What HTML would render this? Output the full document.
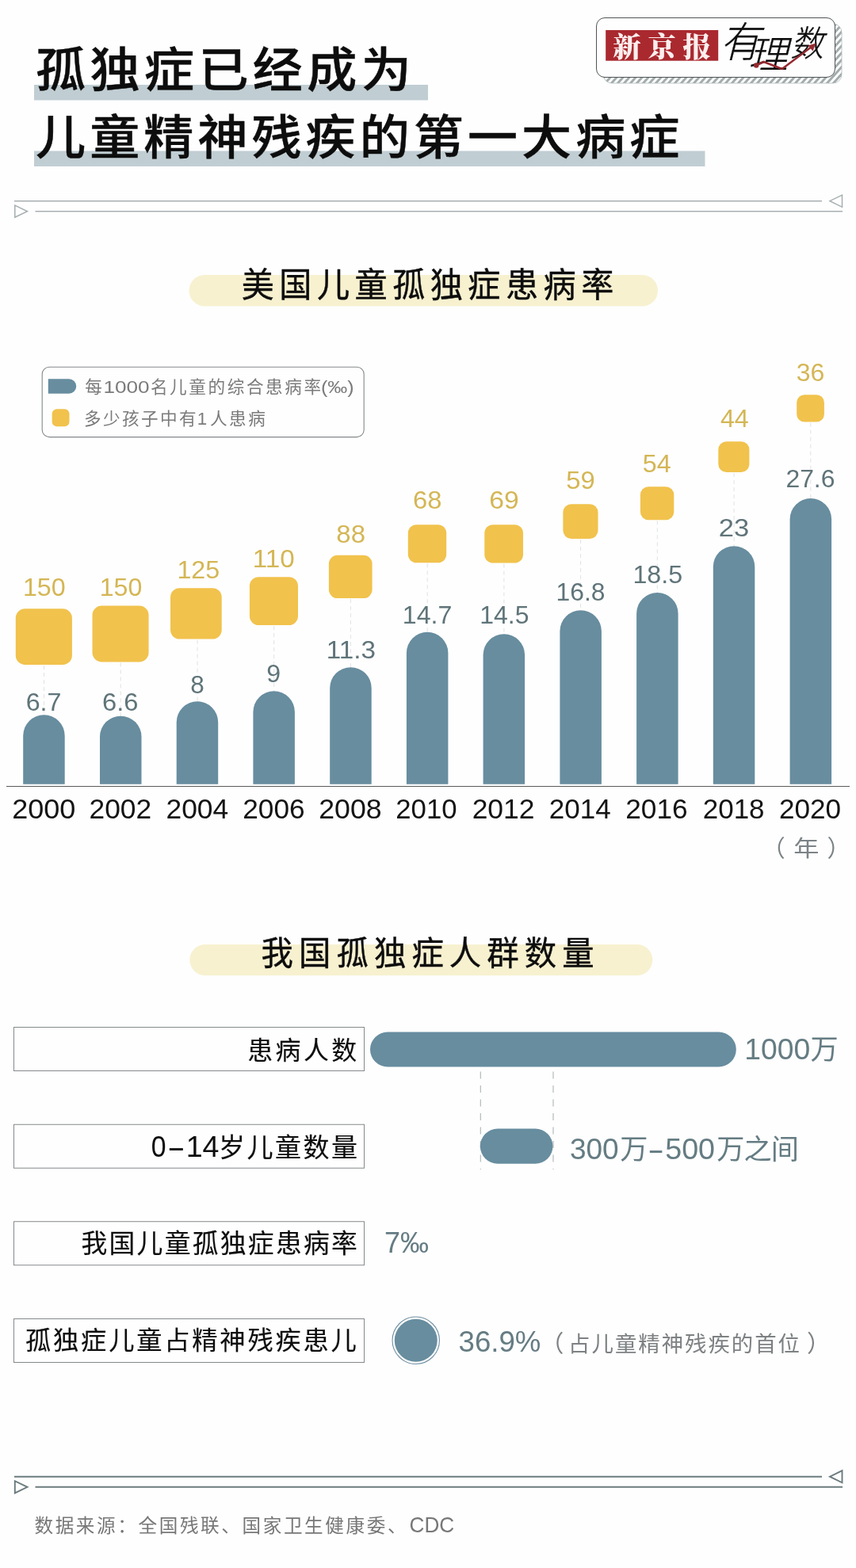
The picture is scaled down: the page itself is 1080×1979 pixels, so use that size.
<!DOCTYPE html>
<html lang="zh-CN"><head><meta charset="utf-8"><title>孤独症已经成为儿童精神残疾的第一大病症</title>
<style>
html,body{margin:0;padding:0;background:#fefefe;}
body{width:1080px;height:1979px;overflow:hidden;position:relative;}
svg{display:block;position:absolute;left:0;top:0;}
text{font-family:"Liberation Sans", "Noto Sans CJK SC", sans-serif;white-space:pre;}
.serif{font-family:"Liberation Serif", "Noto Serif CJK SC", serif;}
</style></head><body>
<svg width="1080" height="1979" viewBox="0 0 1080 1979">
<defs>
<pattern id="hatch" width="8" height="40" patternUnits="userSpaceOnUse" patternTransform="skewX(-42)"><rect x="0" y="0" width="4" height="40" fill="#a3acad"/></pattern>
</defs>
<rect width="1080" height="1979" fill="#fefefe"/>
<rect x="43" y="107" width="497" height="19.5" fill="#c0ced3"/>
<rect x="43" y="190.5" width="846.5" height="19.5" fill="#c0ced3"/>
<text font-size="59.84" fill="#0d0d0d" font-weight="500" stroke="#0d0d0d" stroke-width="0.45" transform="matrix(1.0550 0 0 1 45.11 109.61)" letter-spacing="5.04">孤独症已经成为</text>
<text font-size="59.79" fill="#0d0d0d" font-weight="500" stroke="#0d0d0d" stroke-width="0.45" transform="matrix(1.0550 0 0 1 45.11 194.92)" letter-spacing="4.78">儿童精神残疾的第一大病症</text>
<rect x="761" y="30" width="301" height="75" rx="11" fill="url(#hatch)" stroke="#b4bbbc" stroke-width="0.8"/>
<rect x="752.5" y="22.5" width="301" height="75" rx="10.5" fill="#fefefe" stroke="#4f5557" stroke-width="1"/>
<rect x="764.2" y="38" width="142" height="38.7" fill="#a9292f"/>
<text font-size="35.57" fill="#fdeeee" font-weight="900" class="serif" x="773.13" y="71.74" letter-spacing="8.51">新京报</text>
<g transform="translate(938.0,51.6) skewX(-14) translate(-938.0,-51.6)">
<text font-size="52.5" fill="#0d0d0d" font-weight="300" stroke="#0d0d0d" stroke-width="0.35" transform="matrix(0.9524 0 0 1 913.50 71.60)">有</text>
</g>
<g transform="translate(973.8,67.5) skewX(-14) translate(-973.8,-67.5)">
<text font-size="48.19" fill="#0d0d0d" font-weight="300" stroke="#0d0d0d" stroke-width="0.35" transform="matrix(1.0263 0 0 1 949.02 85.57)">理</text>
</g>
<g transform="translate(1022.5,53.4) skewX(-14) translate(-1022.5,-53.4)">
<text font-size="45.33" fill="#0d0d0d" font-weight="300" stroke="#0d0d0d" stroke-width="0.35" transform="matrix(0.9212 0 0 1 1001.41 70.57)">数</text>
</g>
<polyline points="954.2,82.5 963.5,78 986.7,87 1024,59" fill="none" stroke="#93292f" stroke-width="2.5" stroke-linejoin="round"/>
<circle cx="954.2" cy="82.5" r="3.2" fill="#962a30"/>
<polygon points="1029.5,54.5 1019.5,57.5 1025.5,64.5" fill="#962a30"/>
<g fill="none" stroke="#a7afb1" stroke-width="1.5">
<line x1="18" y1="253.7" x2="1037" y2="253.7"/>
<line x1="44.5" y1="266.7" x2="1063" y2="266.7"/>
<polygon points="18.8,259.1 18.8,274.3 34.5,266.7"/>
<polygon points="1062.5,246.1 1062.5,261.3 1047,253.7"/>
</g>
<g fill="none" stroke="#6b7b7e" stroke-width="1.9">
<line x1="18" y1="1863.7" x2="1037" y2="1863.7"/>
<line x1="44.5" y1="1876.8" x2="1063" y2="1876.8"/>
<polygon points="18.8,1869.2 18.8,1884.4 34.5,1876.8"/>
<polygon points="1062.5,1856.1 1062.5,1871.3 1047,1863.7"/>
</g>
<rect x="238.5" y="347" width="591.5" height="39.6" rx="19.8" fill="#f7f1d0"/>
<text font-size="43.33" fill="#0d0d0d" stroke="#0d0d0d" stroke-width="0.4" transform="matrix(0.9500 0 0 1 304.74 375.23)" letter-spacing="6.79">美国儿童孤独症患病率</text>
<rect x="53.2" y="463.2" width="406" height="88.4" rx="9" fill="#fefefe" stroke="#85898b" stroke-width="1.1"/>
<path d="M60.8 478.3 H87 a9.25 9.25 0 0 1 0 18.5 H60.8 Z" fill="#678d9f"/>
<rect x="65.7" y="516.3" width="21.8" height="22" rx="6" fill="#f1c24c"/>
<text fill="#7b7b7b"><tspan x="107.35" y="496.10" font-size="21.6" letter-spacing="0.00">每</tspan><tspan x="130.40" y="496.10" font-size="22.3" textLength="58.27" lengthAdjust="spacingAndGlyphs">1000</tspan><tspan x="189.92" y="496.10" font-size="21.6" letter-spacing="2.60">名儿童的综合患病率</tspan><tspan x="405.00" y="496.10" font-size="21.5" textLength="41.65" lengthAdjust="spacingAndGlyphs">(‰)</tspan></text>
<text fill="#7b7b7b"><tspan x="106.07" y="536.00" font-size="21.6" letter-spacing="2.40">多少孩子中有</tspan><tspan x="248.80" y="536.00" font-size="22.3" letter-spacing="0.00">1</tspan><tspan x="264.92" y="536.00" font-size="21.6" letter-spacing="2.57">人患病</tspan></text>
<line x1="55.5" y1="840.1" x2="55.5" y2="902.4" stroke="#dfe2e3" stroke-width="1" stroke-dasharray="5 4"/>
<path d="M29.2 989.8 V928.6 a26.25 26.25 0 0 1 52.5 0 V989.8 Z" fill="#678d9f"/>
<rect x="19.8" y="768.3" width="71.1" height="70.8" rx="11.9" fill="#f1c24c"/>
<text font-size="30.85" fill="#5f7479" transform="matrix(1.0453 0 0 1 32.69 897.19)">6.7</text>
<text font-size="30.85" fill="#d4b655" transform="matrix(1.0456 0 0 1 28.92 751.99)">150</text>
<text font-size="35.92" fill="#141414" transform="matrix(1.0031 0 0 1 15.20 1032.64)">2000</text>
<line x1="152.2" y1="836.4" x2="152.2" y2="903.7" stroke="#dfe2e3" stroke-width="1" stroke-dasharray="5 4"/>
<path d="M126.0 989.8 V929.9 a26.25 26.25 0 0 1 52.5 0 V989.8 Z" fill="#678d9f"/>
<rect x="116.5" y="764.6" width="71.1" height="70.8" rx="11.9" fill="#f1c24c"/>
<text font-size="30.85" fill="#5f7479" transform="matrix(1.0597 0 0 1 128.97 897.19)">6.6</text>
<text font-size="30.85" fill="#d4b655" transform="matrix(1.0415 0 0 1 125.73 751.69)">150</text>
<text font-size="35.92" fill="#141414" transform="matrix(0.9849 0 0 1 112.48 1032.64)">2002</text>
<line x1="249.0" y1="807.6" x2="249.0" y2="885.4" stroke="#dfe2e3" stroke-width="1" stroke-dasharray="5 4"/>
<path d="M222.7 989.8 V911.6 a26.25 26.25 0 0 1 52.5 0 V989.8 Z" fill="#678d9f"/>
<rect x="215.0" y="742.2" width="64.7" height="64.4" rx="11.6" fill="#f1c24c"/>
<text font-size="30.85" fill="#5f7479" transform="matrix(1.0207 0 0 1 240.24 874.79)">8</text>
<text font-size="30.85" fill="#d4b655" transform="matrix(1.0456 0 0 1 223.42 730.19)">125</text>
<text font-size="35.92" fill="#141414" transform="matrix(0.9854 0 0 1 209.48 1032.64)">2004</text>
<line x1="345.7" y1="790.0" x2="345.7" y2="872.3" stroke="#dfe2e3" stroke-width="1" stroke-dasharray="5 4"/>
<path d="M319.4 989.8 V898.5 a26.25 26.25 0 0 1 52.5 0 V989.8 Z" fill="#678d9f"/>
<rect x="314.9" y="728.2" width="61.1" height="60.8" rx="11.4" fill="#f1c24c"/>
<text font-size="30.85" fill="#5f7479" transform="matrix(1.0429 0 0 1 336.19 860.79)">9</text>
<text font-size="30.85" fill="#d4b655" transform="matrix(1.0783 0 0 1 318.84 715.89)">110</text>
<text font-size="35.92" fill="#141414" transform="matrix(0.9803 0 0 1 306.24 1032.64)">2006</text>
<line x1="442.4" y1="756.1" x2="442.4" y2="842.2" stroke="#dfe2e3" stroke-width="1" stroke-dasharray="5 4"/>
<path d="M416.2 989.8 V868.4 a26.25 26.25 0 0 1 52.5 0 V989.8 Z" fill="#678d9f"/>
<rect x="414.9" y="700.7" width="54.7" height="54.4" rx="11.0" fill="#f1c24c"/>
<text font-size="30.85" fill="#5f7479" transform="matrix(1.0780 0 0 1 411.74 830.79)">11.3</text>
<text font-size="30.85" fill="#d4b655" transform="matrix(1.0700 0 0 1 424.28 685.49)">88</text>
<text font-size="35.92" fill="#141414" transform="matrix(0.9933 0 0 1 402.22 1032.64)">2008</text>
<line x1="539.2" y1="711.3" x2="539.2" y2="797.7" stroke="#dfe2e3" stroke-width="1" stroke-dasharray="5 4"/>
<path d="M512.9 989.8 V824.0 a26.25 26.25 0 0 1 52.5 0 V989.8 Z" fill="#678d9f"/>
<rect x="514.8" y="662.2" width="48.4" height="48.1" rx="10.7" fill="#f1c24c"/>
<text font-size="31.74" fill="#5f7479" transform="matrix(1.0127 0 0 1 507.83 787.10)">14.7</text>
<text font-size="30.85" fill="#d4b655" transform="matrix(1.0614 0 0 1 520.96 642.19)">68</text>
<text font-size="35.92" fill="#141414" transform="matrix(0.9672 0 0 1 499.26 1032.64)">2010</text>
<line x1="635.9" y1="711.6" x2="635.9" y2="800.3" stroke="#dfe2e3" stroke-width="1" stroke-dasharray="5 4"/>
<path d="M609.6 989.8 V826.6 a26.25 26.25 0 0 1 52.5 0 V989.8 Z" fill="#678d9f"/>
<rect x="611.3" y="662.2" width="48.7" height="48.4" rx="10.7" fill="#f1c24c"/>
<text font-size="31.29" fill="#5f7479" transform="matrix(1.0220 0 0 1 605.24 786.79)">14.5</text>
<text font-size="30.85" fill="#d4b655" transform="matrix(1.0944 0 0 1 617.21 642.19)">69</text>
<text font-size="35.92" fill="#141414" transform="matrix(0.9875 0 0 1 595.63 1032.64)">2012</text>
<line x1="732.6" y1="681.0" x2="732.6" y2="770.3" stroke="#dfe2e3" stroke-width="1" stroke-dasharray="5 4"/>
<path d="M706.4 989.8 V796.5 a26.25 26.25 0 0 1 52.5 0 V989.8 Z" fill="#678d9f"/>
<rect x="710.4" y="636.2" width="44.1" height="43.8" rx="10.4" fill="#f1c24c"/>
<text font-size="30.85" fill="#5f7479" transform="matrix(1.0330 0 0 1 701.45 758.29)">16.8</text>
<text font-size="30.85" fill="#d4b655" transform="matrix(1.0646 0 0 1 714.19 616.99)">59</text>
<text font-size="35.92" fill="#141414" transform="matrix(0.9757 0 0 1 692.75 1032.64)">2014</text>
<line x1="829.3" y1="657.3" x2="829.3" y2="748.0" stroke="#dfe2e3" stroke-width="1" stroke-dasharray="5 4"/>
<path d="M803.1 989.8 V774.3 a26.25 26.25 0 0 1 52.5 0 V989.8 Z" fill="#678d9f"/>
<rect x="807.9" y="614.2" width="42.4" height="42.1" rx="10.3" fill="#f1c24c"/>
<text font-size="30.85" fill="#5f7479" transform="matrix(1.0437 0 0 1 798.42 735.79)">18.5</text>
<text font-size="31.29" fill="#d4b655" transform="matrix(1.0325 0 0 1 810.71 596.19)">54</text>
<text font-size="35.92" fill="#141414" transform="matrix(0.9803 0 0 1 789.24 1032.64)">2016</text>
<line x1="926.1" y1="597.0" x2="926.1" y2="689.2" stroke="#dfe2e3" stroke-width="1" stroke-dasharray="5 4"/>
<path d="M899.8 989.8 V715.4 a26.25 26.25 0 0 1 52.5 0 V989.8 Z" fill="#678d9f"/>
<rect x="906.3" y="557.2" width="39.1" height="38.8" rx="10.2" fill="#f1c24c"/>
<text font-size="30.85" fill="#5f7479" transform="matrix(1.1186 0 0 1 906.77 677.29)">23</text>
<text font-size="32.21" fill="#d4b655" transform="matrix(0.9988 0 0 1 908.96 538.82)">44</text>
<text font-size="35.92" fill="#141414" transform="matrix(0.9737 0 0 1 886.75 1032.64)">2018</text>
<line x1="1022.8" y1="533.6" x2="1022.8" y2="629.0" stroke="#dfe2e3" stroke-width="1" stroke-dasharray="5 4"/>
<path d="M996.6 989.8 V655.2 a26.25 26.25 0 0 1 52.5 0 V989.8 Z" fill="#678d9f"/>
<rect x="1005.2" y="498.2" width="34.7" height="34.4" rx="9.9" fill="#f1c24c"/>
<text font-size="30.85" fill="#5f7479" transform="matrix(1.0338 0 0 1 991.41 615.49)">27.6</text>
<text font-size="30.85" fill="#d4b655" transform="matrix(1.0385 0 0 1 1004.72 480.69)">36</text>
<text font-size="35.92" fill="#141414" transform="matrix(0.9777 0 0 1 983.04 1032.64)">2020</text>
<line x1="8" y1="992.5" x2="1072" y2="992.5" stroke="#5a5a5a" stroke-width="1"/>
<text fill="#7c8386"><tspan x="961.26" y="1080.90" font-size="29.5" letter-spacing="0.00">（</tspan><tspan x="1001.39" y="1080.90" font-size="28.2" textLength="32.22" lengthAdjust="spacingAndGlyphs">年</tspan><tspan x="1043.44" y="1080.90" font-size="29.5" letter-spacing="0.00">）</tspan></text>
<rect x="239.3" y="1192" width="584" height="39.2" rx="19.6" fill="#f7f1d0"/>
<text font-size="42.55" fill="#0d0d0d" stroke="#0d0d0d" stroke-width="0.4" transform="matrix(0.9500 0 0 1 329.48 1218.37)" letter-spacing="7.44">我国孤独症人群数量</text>
<rect x="17.5" y="1296.5" width="442" height="55" fill="#fefefe" stroke="#85898b" stroke-width="1"/>
<text font-size="31.91" fill="#0d0d0d" stroke="#0d0d0d" stroke-width="0.15" x="312.15" y="1336.93" letter-spacing="3.47">患病人数</text>
<rect x="17.5" y="1419.25" width="442" height="55" fill="#fefefe" stroke="#85898b" stroke-width="1"/>
<text fill="#0d0d0d"><tspan x="190.65" y="1459.90" font-size="36.6" textLength="18.77" lengthAdjust="spacingAndGlyphs">0</tspan><tspan x="210.82" y="1459.90" font-size="36.6" textLength="23.19" lengthAdjust="spacingAndGlyphs">-</tspan><tspan x="234.69" y="1459.90" font-size="36.6" textLength="41.82" lengthAdjust="spacingAndGlyphs">14</tspan><tspan x="276.10" y="1459.90" font-size="33" letter-spacing="2.46" stroke="#0d0d0d" stroke-width="0.15">岁儿童数量</tspan></text>
<rect x="17.5" y="1541.75" width="442" height="55" fill="#fefefe" stroke="#85898b" stroke-width="1"/>
<text font-size="32.8" fill="#0d0d0d" stroke="#0d0d0d" stroke-width="0.15" x="102.44" y="1580.78" letter-spacing="2.27">我国儿童孤独症患病率</text>
<rect x="17.5" y="1664.5" width="442" height="55" fill="#fefefe" stroke="#85898b" stroke-width="1"/>
<text font-size="32.26" fill="#0d0d0d" stroke="#0d0d0d" stroke-width="0.15" x="31.96" y="1702.72" letter-spacing="2.81">孤独症儿童占精神残疾患儿</text>
<line x1="606.3" y1="1352.5" x2="606.3" y2="1476" stroke="#adb3b5" stroke-width="1.1" stroke-dasharray="9 8.5"/>
<line x1="698" y1="1352.5" x2="698" y2="1476" stroke="#adb3b5" stroke-width="1.1" stroke-dasharray="9 8.5"/>
<rect x="467" y="1302.5" width="461.8" height="44" rx="22" fill="#678d9f"/>
<rect x="605.8" y="1424.5" width="91.7" height="44.2" rx="22.1" fill="#678d9f"/>
<text fill="#657c83"><tspan x="939.32" y="1337.20" font-size="37" textLength="82.84" lengthAdjust="spacingAndGlyphs">1000</tspan><tspan x="1022.50" y="1337.20" font-size="35.2" letter-spacing="0.00">万</tspan></text>
<text fill="#657c83"><tspan x="718.92" y="1462.70" font-size="37" textLength="61.71" lengthAdjust="spacingAndGlyphs">300</tspan><tspan x="782.15" y="1462.70" font-size="35.2" letter-spacing="0.00">万</tspan><tspan x="817.06" y="1462.70" font-size="37" textLength="21.19" lengthAdjust="spacingAndGlyphs">-</tspan><tspan x="839.19" y="1462.70" font-size="37" textLength="62.86" lengthAdjust="spacingAndGlyphs">500</tspan><tspan x="904.19" y="1462.70" font-size="35.2" letter-spacing="-0.91">万之间</tspan></text>
<text font-size="37.3" fill="#657c83" transform="matrix(0.9655 0 0 1 484.90 1580.78)">7‰</text>
<circle cx="524.75" cy="1691.75" r="29.7" fill="#fefefe" stroke="#6f8fa3" stroke-width="1.1"/>
<circle cx="524.75" cy="1691.75" r="27" fill="#678d9f"/>
<text font-size="37.3" fill="#657c83" transform="matrix(0.9820 0 0 1 578.53 1705.87)">36.9%</text>
<text fill="#7d8183"><tspan x="681.83" y="1706.40" font-size="29.6" letter-spacing="0.00">（</tspan><tspan x="717.11" y="1706.40" font-size="27.42" letter-spacing="1.98">占儿童精神残疾的首位</tspan><tspan x="1018.07" y="1706.40" font-size="29.6" letter-spacing="0.00">）</tspan></text>
<text fill="#777"><tspan x="43.46" y="1934.30" font-size="23.6" letter-spacing="2.61">数据来源：全国残联、国家卫生健康委、</tspan><tspan x="516.49" y="1934.30" font-size="27.3" textLength="56.73" lengthAdjust="spacingAndGlyphs">CDC</tspan></text>
</svg>
</body></html>
